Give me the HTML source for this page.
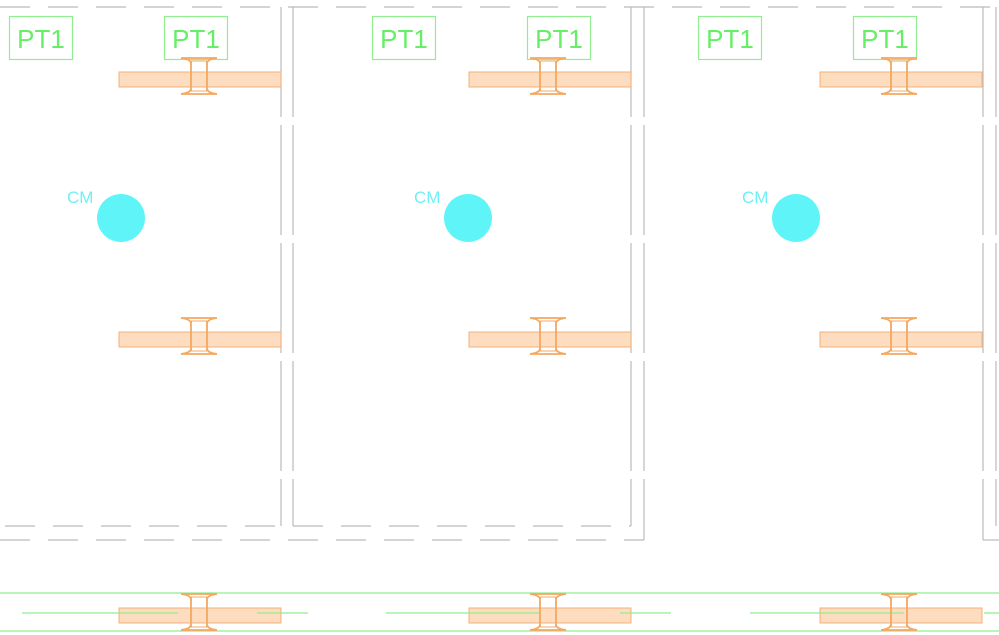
<!DOCTYPE html>
<html><head><style>html,body{margin:0;padding:0;background:#fff;width:999px;height:635px;overflow:hidden}</style></head>
<body>
<svg width="999" height="635" viewBox="0 0 999 635" xmlns="http://www.w3.org/2000/svg" font-family="Liberation Sans, sans-serif">
<defs>
<g id="ib" fill="none" stroke="#f4a860" stroke-width="1.8">
<line x1="-8" y1="-15" x2="-8" y2="15"/><line x1="8" y1="-15" x2="8" y2="15"/>
<path d="M-18,-18 L18,-18 M-18,-18 Q-9,-17 -8,-13 M18,-18 Q9,-17 8,-13"/>
<path d="M-18,18 L18,18 M-18,18 Q-9,17 -8,13 M18,18 Q9,17 8,13"/>
<line x1="-8" y1="-15" x2="8" y2="-15" stroke-width="1"/><line x1="-8" y1="15" x2="8" y2="15" stroke-width="1"/>
</g>
</defs>
<g stroke="#bbb" stroke-width="1.2" fill="none">
<line x1="0" y1="7" x2="999" y2="7" stroke-dasharray="30,18"/>
<line x1="281" y1="7" x2="281" y2="526" stroke-dasharray="110,8"/>
<line x1="0" y1="526" x2="281" y2="526" stroke-dasharray="30,18" stroke-dashoffset="-5"/>
<line x1="293" y1="7" x2="293" y2="526" stroke-dasharray="110,8"/>
<line x1="293" y1="526" x2="631" y2="526" stroke-dasharray="30,18"/>
<line x1="631" y1="7" x2="631" y2="526" stroke-dasharray="110,8"/>
<line x1="644" y1="7" x2="644" y2="540" stroke-dasharray="110,8"/>
<line x1="0" y1="540" x2="644" y2="540" stroke-dasharray="30,18"/>
<line x1="983" y1="7" x2="983" y2="540" stroke-dasharray="110,8"/>
<line x1="983" y1="540" x2="999" y2="540"/>
<line x1="996" y1="7" x2="996" y2="526" stroke-dasharray="110,8"/>
</g>
<g stroke="#90ee90" stroke-width="1.3">
<line x1="0" y1="593" x2="999" y2="593"/><line x1="0" y1="631" x2="999" y2="631"/>
</g>
<g fill="#fddcbf" stroke="#f4b07a" stroke-width="1">
<rect x="119" y="72" width="162" height="15"/><rect x="119" y="332" width="162" height="15"/><rect x="119" y="608" width="162" height="15"/>
<rect x="469" y="72" width="162" height="15"/><rect x="469" y="332" width="162" height="15"/><rect x="469" y="608" width="162" height="15"/>
<rect x="820" y="72" width="162" height="15"/><rect x="820" y="332" width="162" height="15"/><rect x="820" y="608" width="162" height="15"/>
</g>
<g stroke="#90ee90" stroke-width="1.3">
<line x1="22" y1="613" x2="178" y2="613"/><line x1="257" y1="613" x2="308" y2="613"/>
<line x1="386" y1="613" x2="540" y2="613"/><line x1="620" y1="613" x2="671" y2="613"/>
<line x1="750" y1="613" x2="904" y2="613"/><line x1="984" y1="613" x2="999" y2="613"/>
</g>
<g fill="#fff" stroke="#90ee90" stroke-width="1.2">
<rect x="9.5" y="16.5" width="63" height="43"/><rect x="164.5" y="16.5" width="63" height="43"/>
<rect x="372.5" y="16.5" width="63" height="43"/><rect x="527.5" y="16.5" width="63" height="43"/>
<rect x="698.5" y="16.5" width="63" height="43"/><rect x="853.5" y="16.5" width="63" height="43"/>
</g>
<use href="#ib" x="199" y="76"/><use href="#ib" x="199" y="336"/><use href="#ib" x="199" y="612"/>
<use href="#ib" x="548" y="76"/><use href="#ib" x="548" y="336"/><use href="#ib" x="548" y="612"/>
<use href="#ib" x="899" y="76"/><use href="#ib" x="899" y="336"/><use href="#ib" x="899" y="612"/>
<g fill="#66ee66" font-size="26" text-anchor="middle">
<text x="41" y="48">PT1</text><text x="196" y="48">PT1</text>
<text x="404" y="48">PT1</text><text x="559" y="48">PT1</text>
<text x="730" y="48">PT1</text><text x="885" y="48">PT1</text>
</g>
<g fill="#5ff5f8">
<circle cx="121" cy="218" r="24"/><circle cx="468" cy="218" r="24"/><circle cx="796" cy="218" r="24"/>
</g>
<g fill="#6ff0f5" font-size="17">
<text x="67" y="203">CM</text><text x="414" y="203">CM</text><text x="742" y="203">CM</text>
</g>
</svg>
</body></html>
